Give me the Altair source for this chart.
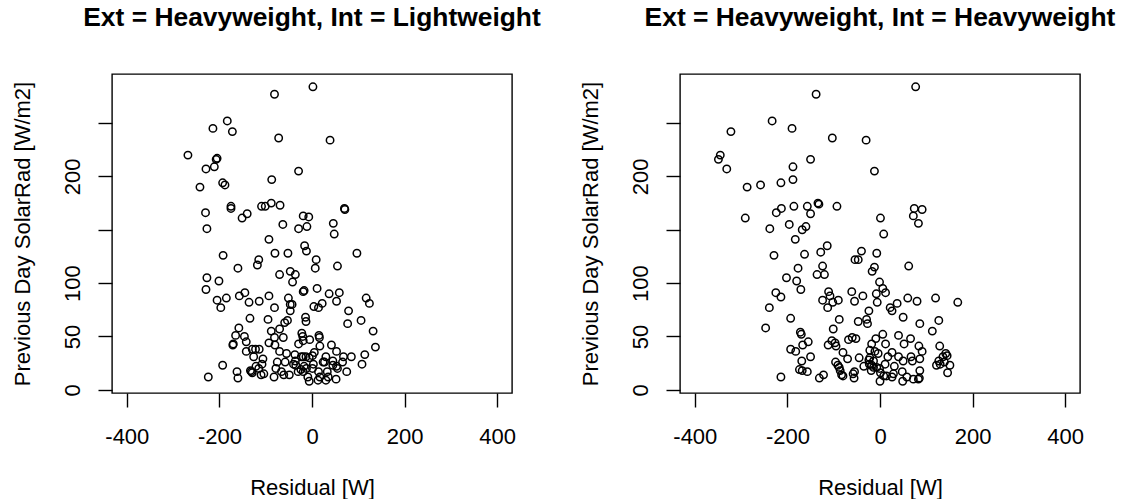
import altair as alt
import pandas as pd

FONT = "Liberation Sans"

# Panel 1: Ext = Heavyweight, Int = Lightweight
resid_light = [
    2, -81, -183, -214, -172, -72, 39, -268, -207, -205,
    -229, -211, -29, -87, -193, -188, -242, -175, -175, -230,
    -151, -140, -109, -101, -88, -69, -19, -7, -11, -63,
    -29, 46, 48, 70, 71, -227, -93, -16, -12, -80,
    -52, 97, -192, -115, -118, -160, 9, 7, 55, -70,
    -47, -36, -42, -227, -201, -229, -17, -19, 11, 37,
    59, -145, -157, -185, -205, -197, -136, -114, -93, -51,
    -47, -43, -47, -81, 4, 14, 22, 53, 117, 124,
    79, -134, -95, -59, -53, -70, -14, -13, 77, 106,
    132, 137, -158, -165, -146, -142, -171, -170, -142, -129,
    -122, -114, -126, -106, -108, -88, -81, -62, -93, -80,
    -70, -55, -29, -20, -22, -5, -19, 15, 16, 17,
    42, 53, 68, 85, 114, 108, 75, 52, 55, 66,
    45, 30, 27, 24, 45, 53, 33, 35, 30, 17,
    13, 14, 3, -6, 1, 5, -13, -19, -23, -36,
    -40, -35, -24, -30, -17, -12, 1, -9, -6, -19,
    -49, -61, -78, -66, -58, -82, -75, -104, -110, -115,
    -121, -131, -133, -129, -162, -160, -193, -224, -37,
]
solar_light = [
    284, 277, 252, 245, 242, 236, 234, 220, 216, 217,
    207, 209, 205, 197, 194, 192, 190, 172, 170, 166,
    161, 165, 172, 172, 175, 173, 163, 162, 153, 155,
    151, 156, 146, 170, 169, 151, 141, 135, 130, 128,
    128, 128, 126, 122, 117, 114, 122, 114, 116, 108,
    111, 108, 101, 105, 102, 94, 93, 92, 95, 90,
    91, 91, 88, 86, 84, 77, 82, 83, 88, 86,
    80, 80, 74, 77, 78, 77, 81, 83, 86, 81,
    74, 67, 66, 63, 65, 57, 68, 64, 62, 65,
    55, 40, 58, 51, 50, 45, 42, 43, 36, 38,
    38, 38, 31, 29, 24, 55, 49, 49, 44, 42,
    36, 34, 43, 50, 53, 47, 46, 51, 49, 41,
    42, 36, 31, 31, 33, 24, 17, 10, 20, 26,
    27, 31, 26, 26, 23, 22, 17, 12, 9, 12,
    9, 17, 24, 30, 32, 35, 31, 31, 31, 27,
    24, 23, 19, 17, 22, 20, 20, 12, 8, 17,
    14, 14, 20, 17, 26, 12, 26, 15, 14, 20,
    22, 17, 18, 16, 17, 11, 23, 12, 33,
]

# Panel 2: Ext = Heavyweight, Int = Heavyweight
resid_heavy = [
    77, -138, -233, -190, -322, -103, -30, -345, -349, -331,
    -188, -150, -12, -188, -287, -258, -214,
    -291, -224, -213, -186, -157, -150, -134, -132, -93, 1,
    74, 91, 72, 83, -238, -196, -168, -160, 8, -183,
    -114, -229, -163, -128, -40, -7, -54, -47, -124, -177,
    -12, -17, 62, -136, -120, -202, -180, -171, -1, 6,
    12, -225, -214, -111, -108, -61, -37, -8, -124, -90,
    -55, 37, 60, 80, 120, 168, -6, -239,
    -113, -102, 22, 26, -193, -247, -88, -47, -29, -27,
    -24, 50, 86, 127, 113, -101, -172, -170, -155, -167,
    -193, -182, -169, -150, -174, -168, -157, -214, -131, -122,
    -104, -97, -95, -112, -68, -60, -52, -80, -70, -96,
    -91, -88, -86, -83, -80, -58, -55, -56, -45, -35,
    -24, -18, -9, 6, -22, -11, -4, 12, -22, -14,
    -23, -18, -14, -19, -7, -1, 1, 8, 14, 11,
    17, 26, 40, 52, 66, 84, 91, 40, 50, 67,
    70, 86, 31, 48, 29, 26, 58, 49, 72, 85,
    86, 83, 0, 129, 142, 145, 136, 127, 122, 130, 139, 151, 146,
]
solar_heavy = [
    284, 277, 252, 245, 242, 236, 234, 220, 216, 207,
    209, 216, 205, 197, 190, 192, 194,
    161, 166, 170, 172, 172, 165, 175, 174, 172, 161,
    170, 169, 163, 156, 151, 155, 150, 153, 146, 141,
    135, 126, 127, 129, 130, 128, 122, 122, 116, 114,
    115, 111, 116, 108, 108, 105, 102, 94, 101, 95,
    91, 91, 87, 92, 88, 92, 88, 90, 84, 84,
    83, 81, 86, 83, 86, 82, 82, 77,
    77, 82, 77, 74, 67, 58, 66, 64, 66, 62,
    74, 68, 62, 65, 55, 57, 54, 52, 45, 42,
    38, 36, 27, 31, 19, 18, 17, 12, 11, 14,
    46, 44, 41, 42, 47, 49, 48, 35, 29, 26,
    23, 21, 18, 14, 13, 15, 17, 11, 30, 22,
    28, 43, 48, 52, 37, 36, 34, 43, 30, 27,
    24, 23, 21, 18, 21, 20, 16, 13, 13, 24,
    31, 35, 51, 43, 48, 41, 36, 31, 27, 31,
    27, 29, 22, 17, 15, 12, 12, 8, 10, 11,
    18, 10, 8, 41, 34, 32, 31, 27, 23, 24, 26, 23, 16,
]

titles = [
    "Ext = Heavyweight, Int = Lightweight",
    "Ext = Heavyweight, Int = Heavyweight",
]
x_ticks = [-400, -200, 0, 200, 400]
y_ticks = [0, 50, 100, 150, 200, 250]


def panel(resid, solar, title):
    df = pd.DataFrame({"Residual": resid, "Solar": solar})
    return (
        alt.Chart(
            df,
            title=alt.TitleParams(
                text=title,
                font=FONT,
                fontSize=26.4,
                fontWeight="bold",
                color="black",
                anchor="middle",
                frame="group",
                baseline="alphabetic",
                offset=22,
            ),
        )
        .mark_point(
            shape="circle",
            filled=False,
            color="black",
            size=55,
            strokeWidth=1.5,
            opacity=1,
        )
        .encode(
            x=alt.X(
                "Residual:Q",
                scale=alt.Scale(domain=[-432, 432], nice=False, zero=False),
                axis=alt.Axis(
                    values=x_ticks,
                    title="Residual [W]",
                    labelExpr="datum.value + ''",
                    labelBaseline="alphabetic",
                    labelPadding=36,
                    titleBaseline="alphabetic",
                    titleY=101,
                ),
            ),
            y=alt.Y(
                "Solar:Q",
                scale=alt.Scale(domain=[-3, 296], nice=False, zero=False),
                axis=alt.Axis(
                    values=y_ticks,
                    title="Previous Day SolarRad [W/m2]",
                    labelExpr="(datum.value == 150 || datum.value == 250) ? '' : datum.value + ''",
                    labelAngle=270,
                    labelAlign="center",
                    labelBaseline="alphabetic",
                    labelPadding=19,
                    titleAngle=270,
                    titleAlign="center",
                    titleBaseline="alphabetic",
                    titleX=-83,
                    titleY=159.5,
                ),
            ),
        )
        .properties(width=400, height=319)
    )


chart = (
    alt.hconcat(
        panel(resid_light, solar_light, titles[0]),
        panel(resid_heavy, solar_heavy, titles[1]),
        spacing=36,
    )
    .properties(padding={"left": 10, "top": 3, "right": 0, "bottom": 0}, background="white")
    .configure_view(stroke="black", strokeWidth=1.4, fill="white")
    .configure_axis(
        grid=False,
        domain=False,
        ticks=True,
        tickColor="black",
        tickSize=14,
        tickWidth=1.4,
        labelFont=FONT,
        labelFontSize=22,
        labelColor="black",
        titleFont=FONT,
        titleFontSize=22,
        titleFontWeight="normal",
        titleColor="black",
        labelOverlap=False,
    )
)

chart.save("out.html", embed_options={"renderer": "svg", "actions": False})
